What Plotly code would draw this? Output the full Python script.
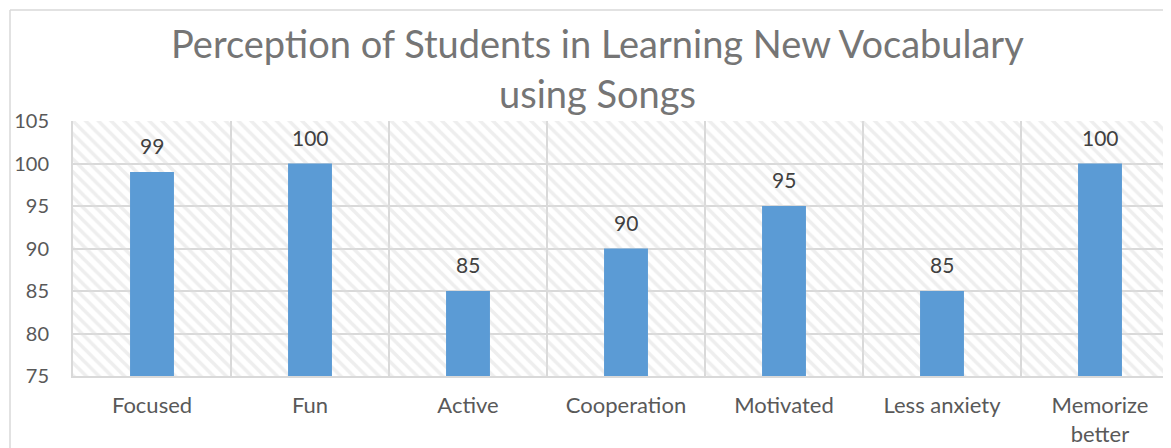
import plotly.graph_objects as go

categories = ["Focused", "Fun", "Active", "Cooperation", "Motivated", "Less anxiety", "Memorize<br>better"]
values = [99, 100, 85, 90, 95, 85, 100]
y_min, y_max, y_step = 75, 105, 5
title_lines = ["Perception of Students in Learning New Vocabulary", "using Songs"]

FONT = "Lato"
OFF = 8  # browser body margin compensation
L, T, B_ = 73 - OFF, 121 - OFF, 376 - OFF
PW = 1171 - L
PH = B_ - T
W, H = 1171, 448

def px_x(x):  # screen x -> paper
    return (x - OFF - L) / PW

def px_y(y):  # screen y -> paper
    return (B_ - (y - OFF)) / PH

fig = go.Figure()

# hatched plot background
fig.add_trace(go.Bar(
    x=categories, y=[y_max - y_min] * len(categories), base=[y_min] * len(categories),
    width=1, marker=dict(color="rgba(0,0,0,0)", line=dict(width=0),
                         pattern=dict(shape="\\", fgcolor="#dedede", bgcolor="rgba(0,0,0,0)",
                                      size=9, solidity=0.4, fillmode="overlay")),
    hoverinfo="skip", showlegend=False))

fig.add_trace(go.Bar(
    x=categories, y=values, width=0.278,
    marker=dict(color="#5B9BD5", line=dict(width=0)), showlegend=False))

for c, v in zip(categories, values):
    fig.add_annotation(x=c, y=v, text=str(v), showarrow=False, yanchor="bottom", yshift=12,
                       font=dict(family=FONT, size=21, color="#404040"))

for txt, ypix in zip(title_lines, [43, 93]):
    fig.add_annotation(x=px_x(597), xref="paper", yref="paper", y=px_y(ypix),
                       text=txt, showarrow=False, xanchor="center", yanchor="middle",
                       font=dict(family=FONT, size=38, color="#757575"))

# outer chart border (cropped)
fig.add_shape(type="line", xref="paper", yref="paper", x0=px_x(10), x1=1.05,
              y0=px_y(10), y1=px_y(10), line=dict(color="#d9d9d9", width=1.5))
fig.add_shape(type="line", xref="paper", yref="paper", x0=px_x(10), x1=px_x(10),
              y0=px_y(10), y1=px_y(460), line=dict(color="#d9d9d9", width=1.5))

fig.update_layout(
    width=W, height=H - OFF, barmode="overlay",
    margin=dict(l=L, r=0, t=T, b=H - OFF - B_, autoexpand=False),
    paper_bgcolor="white", plot_bgcolor="white",
    font=dict(family=FONT, color="#595959", size=18),
    xaxis=dict(range=[-0.5, -0.5 + PW / 158.0], tickson="boundaries", showgrid=True,
               gridcolor="#d9d9d9", gridwidth=2, showline=True, linecolor="#d9d9d9",
               linewidth=2, ticks="", ticklabelstandoff=9, automargin=False,
               tickfont=dict(size=22, color="#595959")),
    yaxis=dict(range=[y_min, y_max], dtick=y_step, showgrid=True, gridcolor="#d9d9d9",
               gridwidth=2, showline=True, linecolor="#d9d9d9", linewidth=2, ticks="",
               ticklabelstandoff=18, automargin=False,
               tickfont=dict(size=20, color="#595959"), zeroline=False),
)

fig.write_html("out.html")
